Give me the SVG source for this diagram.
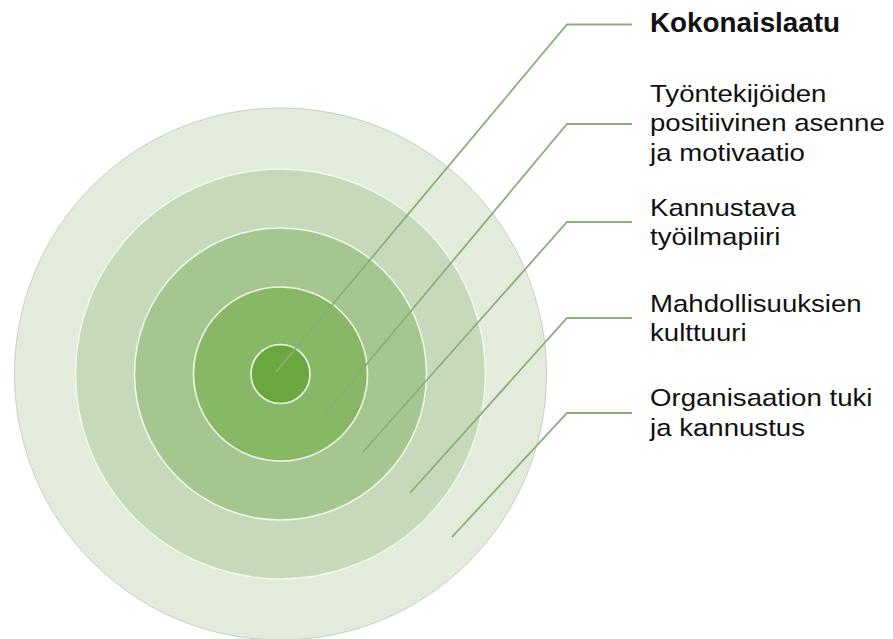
<svg xmlns="http://www.w3.org/2000/svg" width="893" height="639" viewBox="0 0 893 639">
  <style>
    .ring { stroke: #EFF7E6; stroke-width: 1.6; }
    .leader { fill: none; stroke: #8BAE78; stroke-width: 1.8; stroke-linejoin: miter; }
    .label { font-family: "Liberation Sans", Arial, sans-serif; font-size: 24px; fill: #111111; }
    .title { font-family: "Liberation Sans", Arial, sans-serif; font-size: 27px; font-weight: bold; fill: #111111; }
  </style>

  <rect width="893" height="639" fill="#FFFFFF"/>

  <!-- concentric rings, outermost first -->
  <g id="ring-organisaatio">
    <circle cx="280.5" cy="374" r="266" fill="#E3EBDD" stroke="#C9CEC6" stroke-width="1"/>
  </g>
  <g id="ring-mahdollisuudet">
    <circle class="ring" cx="280.5" cy="374" r="205" fill="#C6DABB"/>
  </g>
  <g id="ring-tyoilmapiiri">
    <circle class="ring" cx="280.5" cy="374" r="146" fill="#A5C68F"/>
  </g>
  <g id="ring-asenne">
    <circle class="ring" cx="280.5" cy="374" r="87" fill="#87B866"/>
  </g>
  <g id="ring-kokonaislaatu">
    <circle class="ring" cx="280.5" cy="374" r="29.5" fill="#6BA73F"/>
  </g>

  <!-- leader lines from each ring to its label -->
  <g id="connectors">
    <polyline class="leader" points="276,372 567,24.5 632,24.5"/>
    <polyline class="leader" points="325,414 567,124 632,124"/>
    <polyline class="leader" points="363,452 567,222 632,222"/>
    <polyline class="leader" points="410,493 567,318 632,318"/>
    <polyline class="leader" points="452,537 567,413 632,413"/>
  </g>

  <!-- labels -->
  <g id="label-kokonaislaatu">
    <text class="title" x="650" y="31.5" textLength="190" lengthAdjust="spacingAndGlyphs">Kokonaislaatu</text>
  </g>
  <g id="label-asenne" transform="translate(650,0) scale(1.15,1)">
    <text class="label" x="0" y="102">Työntekijöiden</text>
    <text class="label" x="0" y="131.5">positiivinen asenne</text>
    <text class="label" x="0" y="161">ja motivaatio</text>
  </g>
  <g id="label-tyoilmapiiri" transform="translate(650,0) scale(1.15,1)">
    <text class="label" x="0" y="216">Kannustava</text>
    <text class="label" x="0" y="245">työilmapiiri</text>
  </g>
  <g id="label-mahdollisuudet" transform="translate(650,0) scale(1.15,1)">
    <text class="label" x="0" y="312">Mahdollisuuksien</text>
    <text class="label" x="0" y="341.5">kulttuuri</text>
  </g>
  <g id="label-organisaatio" transform="translate(650,0) scale(1.15,1)">
    <text class="label" x="0" y="406.5">Organisaation tuki</text>
    <text class="label" x="0" y="436">ja kannustus</text>
  </g>
</svg>
